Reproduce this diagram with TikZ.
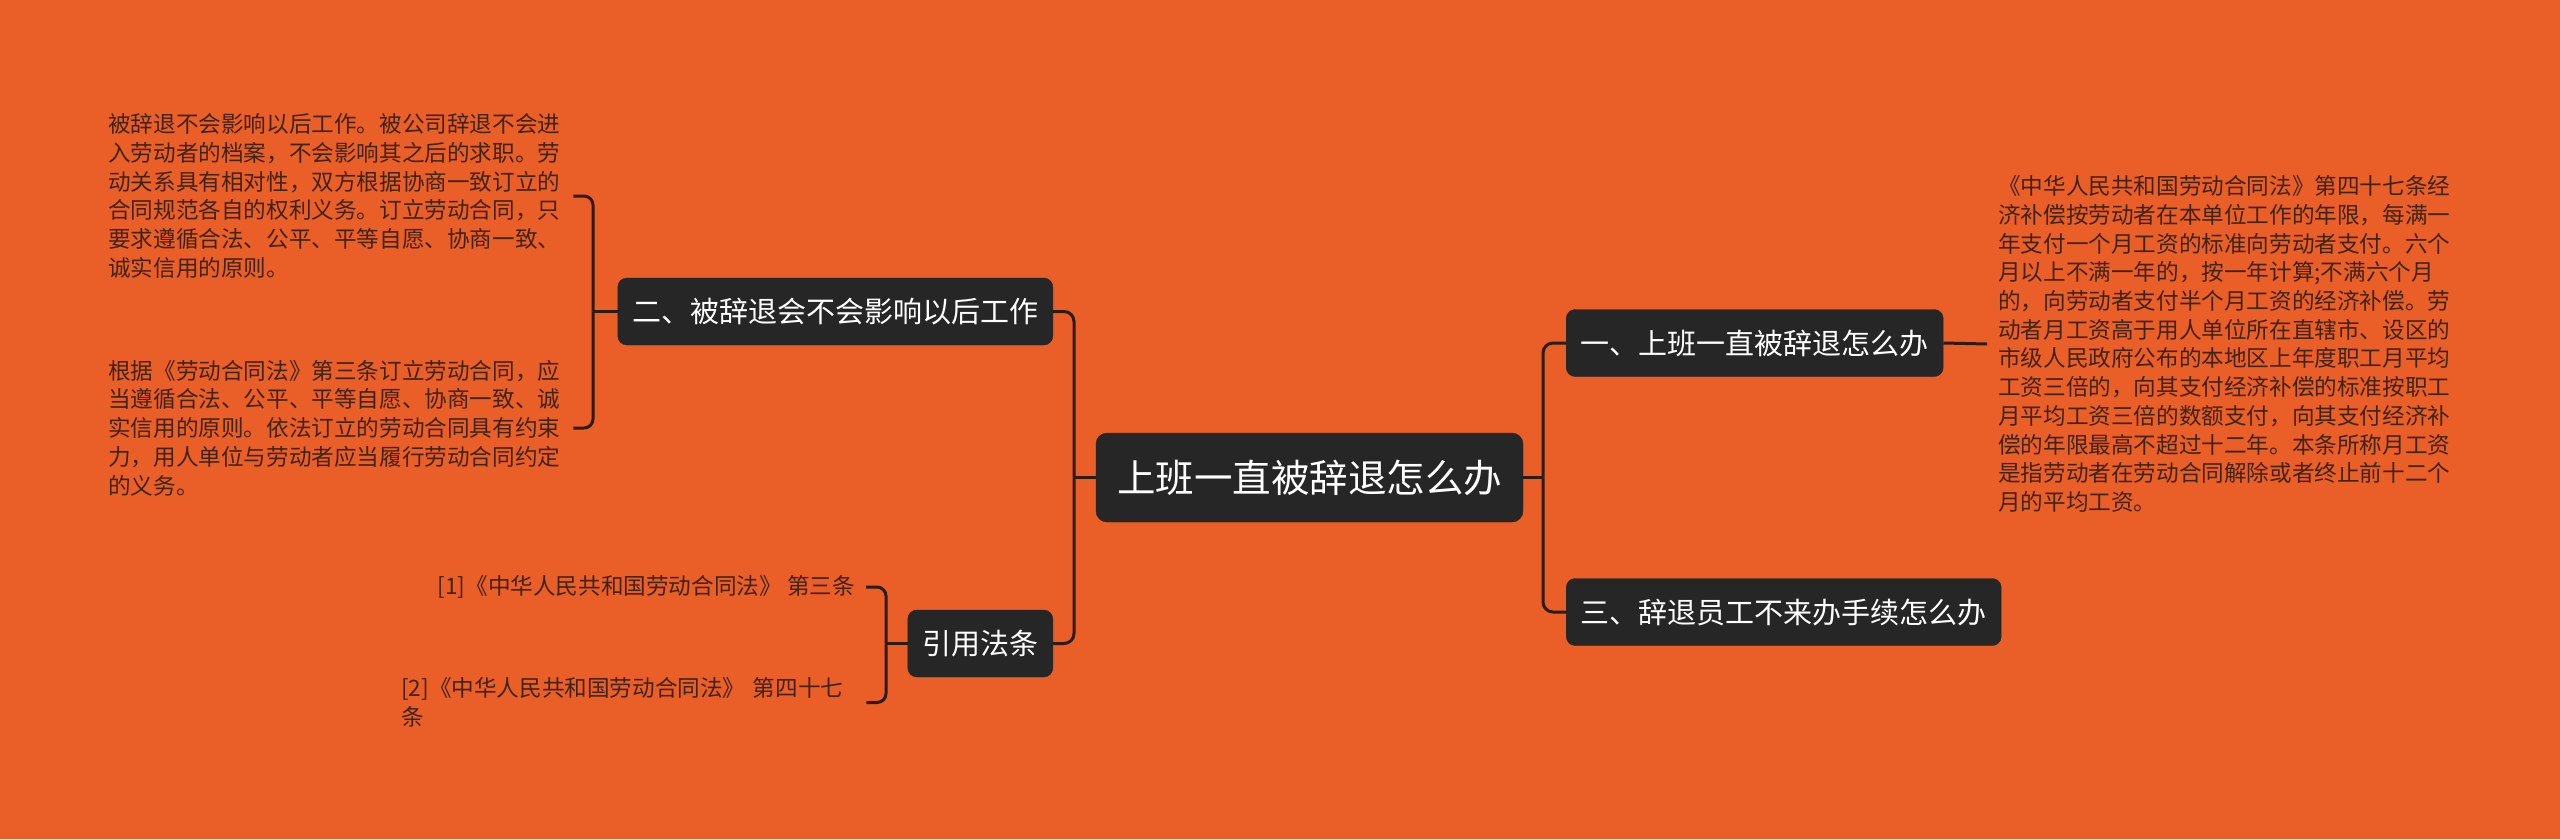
\documentclass[tikz,border=0pt]{standalone}
\usepackage{fontspec}
\newfontfamily\cjk{Noto Sans CJK SC}
\definecolor{bg}{HTML}{EA5E28}
\definecolor{boxfill}{HTML}{262626}
\definecolor{linec}{HTML}{2E1C14}
\definecolor{leaftext}{HTML}{3F2416}
\begin{document}
\begin{tikzpicture}[x=1pt,y=-1pt,
  box/.style={draw=boxfill, fill=boxfill, rounded corners=9pt, text=white,
    font=\cjk\fontsize{29}{29}\selectfont, inner xsep=14.5pt, inner ysep=0pt,
    minimum height=67pt},
  root/.style={box, font=\cjk\fontsize{38.5}{38.5}\selectfont, inner xsep=21pt,
    minimum height=89pt, rounded corners=11pt},
  leaf/.style={font=\cjk\fontsize{22.6}{28.7}\selectfont, text=leaftext,
    inner xsep=11pt, inner ysep=0pt, text width=454pt, align=left},
  reftext/.style={font=\cjk\fontsize{22.6}{29}\selectfont, text=leaftext,
    inner xsep=11pt, inner ysep=0pt},
  conn/.style={draw=linec, line width=3pt, rounded corners=10pt},
  bracket/.style={draw=linec, line width=3pt, rounded corners=9pt}]
\fill[bg] (0,0) rectangle (2560,839);
\useasboundingbox (0,0) rectangle (2560,839);

% main nodes
\node[root] (c) at (1309.5,477.5) {上班一直被辞退怎么办};
\node[box, anchor=east] (n2) at (1053,311.5) {二、被辞退会不会影响以后工作};
\node[box, anchor=east] (ref) at (1053,643.5) {引用法条};
\node[box, anchor=west] (n1) at (1566,343) {一、上班一直被辞退怎么办};
\node[box, anchor=west] (n3) at (1566,612) {三、辞退员工不来办手续怎么办};

% junctions
\coordinate (jl) at (1074,477.5);
\coordinate (jr) at (1543,477.5);
\coordinate (bl) at (593,311.5);
\coordinate (br) at (886,643.5);

% leaves
\node[leaf, anchor=west] (t1) at (97,196) {被辞退不会影响以后工作。被公司辞退不会进\\入劳动者的档案，不会影响其之后的求职。劳\\动关系具有相对性，双方根据协商一致订立的\\合同规范各自的权利义务。订立劳动合同，只\\要求遵循合法、公平、平等自愿、协商一致、\\诚实信用的原则。};
\node[leaf, anchor=west] (t2) at (97,428) {根据《劳动合同法》第三条订立劳动合同，应\\当遵循合法、公平、平等自愿、协商一致、诚\\实信用的原则。依法订立的劳动合同具有约束\\力，用人单位与劳动者应当履行劳动合同约定\\的义务。};
\node[leaf, anchor=west] (t3) at (1987,344) {《中华人民共和国劳动合同法》第四十七条经\\济补偿按劳动者在本单位工作的年限，每满一\\年支付一个月工资的标准向劳动者支付。六个\\月以上不满一年的，按一年计算;不满六个月\\的，向劳动者支付半个月工资的经济补偿。劳\\动者月工资高于用人单位所在直辖市、设区的\\市级人民政府公布的本地区上年度职工月平均\\工资三倍的，向其支付经济补偿的标准按职工\\月平均工资三倍的数额支付，向其支付经济补\\偿的年限最高不超过十二年。本条所称月工资\\是指劳动者在劳动合同解除或者终止前十二个\\月的平均工资。};
\node[reftext, anchor=east] (r1) at (866,587) {[1]《中华人民共和国劳动合同法》 第三条};
\node[leaf, font=\cjk\fontsize{22.6}{29}\selectfont, anchor=west] (r2) at (390,702.5) {[2]《中华人民共和国劳动合同法》 第四十七\\条};

% connectors
\draw[conn] (c.west) -- (jl);
\draw[conn] (n2.east) -| (jl);
\draw[conn] (ref.east) -| (jl);
\draw[conn] (c.east) -- (jr);
\draw[conn] (n1.west) -| (jr);
\draw[conn] (n3.west) -| (jr);
\draw[conn] (n1.east) -- (t3.west);
\draw[conn] (n2.west) -- (bl);
\draw[bracket] (t1.east) -| (bl);
\draw[bracket] (t2.east) -| (bl);
\draw[conn] (ref.west) -- (br);
\draw[bracket] (r1.east) -| (br);
\draw[bracket] (r2.east) -| (br);
\end{tikzpicture}
\end{document}
